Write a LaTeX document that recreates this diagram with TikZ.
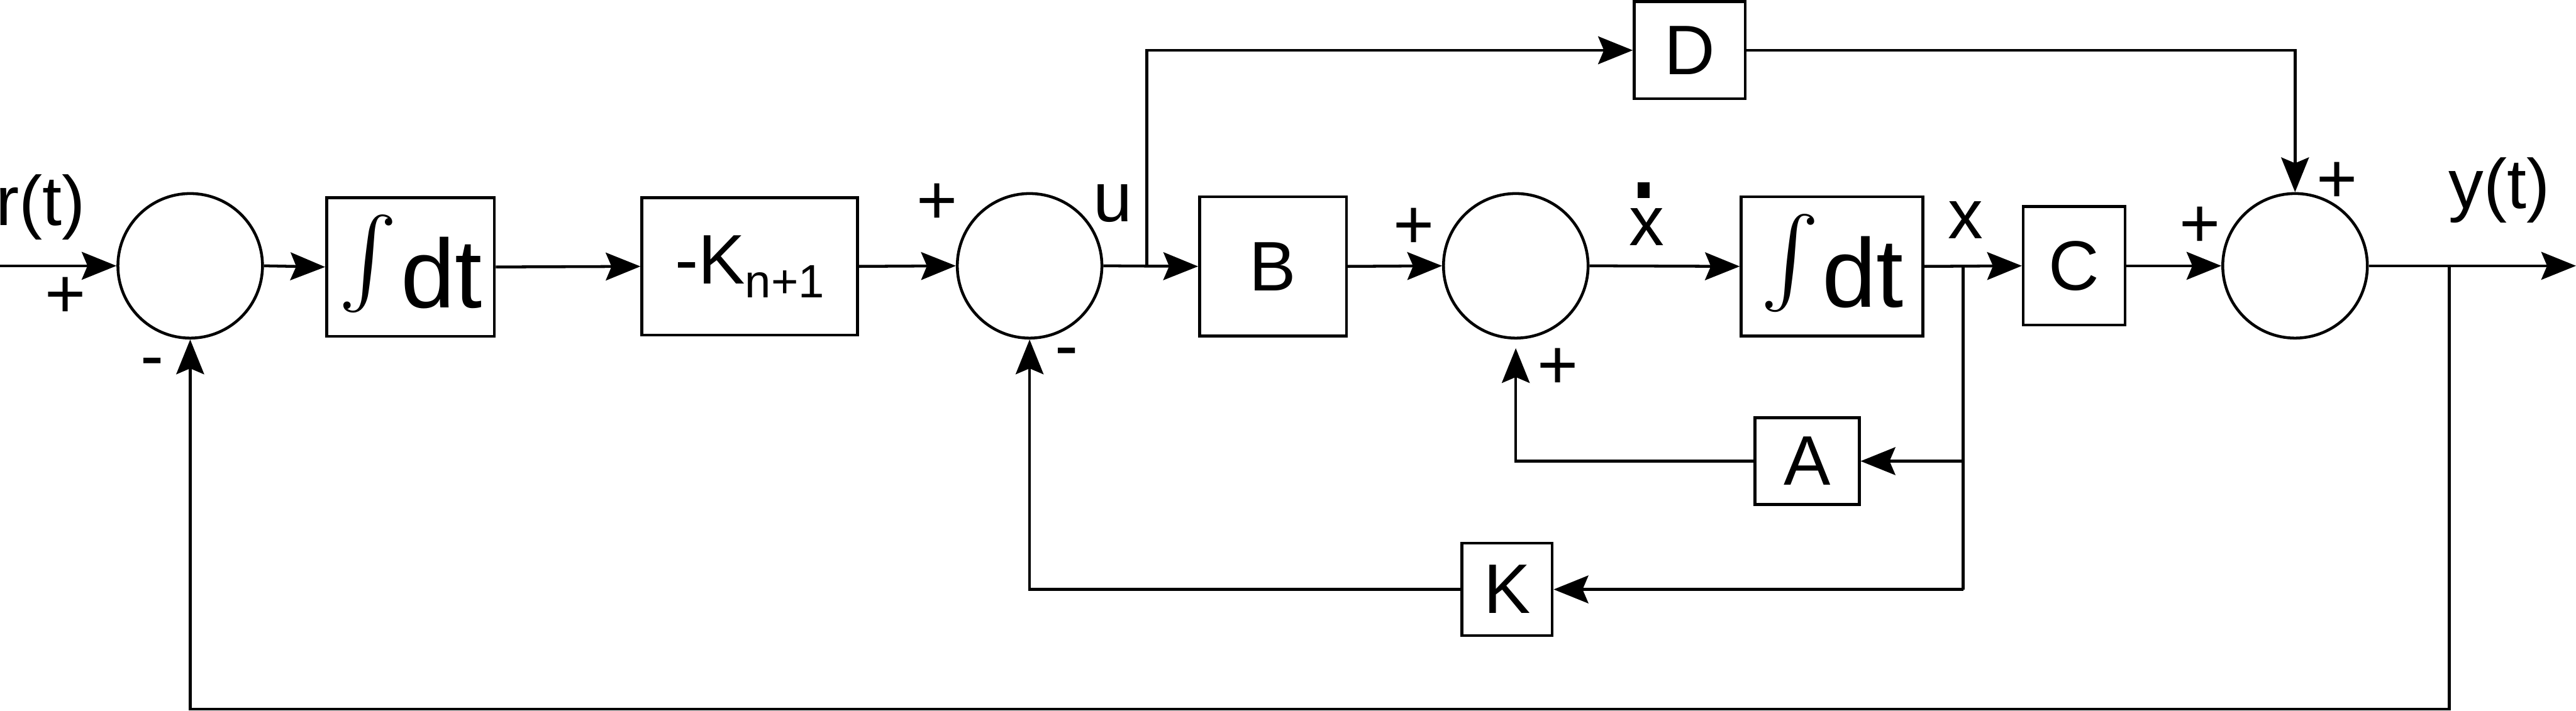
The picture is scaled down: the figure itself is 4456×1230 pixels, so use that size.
\documentclass[tikz,border=0pt]{standalone}
\usepackage{graphicx}
\usepackage{fontspec}
\setmainfont{Liberation Sans}
\usetikzlibrary{arrows.meta,calc}
\newcommand\lblfont{\fontsize{34.5}{40}\selectfont}
\newcommand\subfont{\fontsize{23}{26}\selectfont}
\newcommand\intfont{\fontsize{48}{52}\selectfont}
\newcommand\bigint{\raisebox{-0.2cm}{\resizebox{!}{1.8cm}{\raisebox{\depth}{$\int$}}}}
\tikzset{
  sumnode/.style={circle, draw, line width=1.4pt, minimum size=2.5cm, inner sep=0pt},
  blk/.style={draw, line width=1.4pt, inner sep=0pt, font=\lblfont},
  conn/.style={line width=1.4pt, -{Stealth[length=6mm,width=4.8mm,inset=1mm]}},
  wire/.style={line width=1.4pt},
  lbl/.style={font=\lblfont, inner sep=0pt, anchor=base}
}
\begin{document}
\begin{tikzpicture}[x=0.01cm, y=-0.01cm]
\useasboundingbox (0,0) rectangle (4456,1230);
% summing junctions
\node[sumnode] (s1) at (329,460) {};
\node[sumnode] (s2) at (1781,460) {};
\node[sumnode] (s3) at (2622,460) {};
\node[sumnode] (s4) at (3970,460) {};
% blocks
\node[blk, minimum width=2.9cm, minimum height=2.4cm] (b1) at (710,462) {\intfont\bigint\hspace{0.05cm}dt};
\node[blk, minimum width=3.73cm, minimum height=2.38cm] (bk) at (1297,461) {-K\raisebox{-0.24cm}{\subfont n+1}};
\node[blk, minimum width=2.54cm, minimum height=2.41cm] (bB) at (2202,461) {B};
\node[blk, minimum width=3.14cm, minimum height=2.41cm] (b2) at (3169,461) {\intfont\bigint\hspace{0.05cm}dt};
\node[blk, minimum width=1.76cm, minimum height=2.05cm] (bC) at (3588,460) {C};
\node[blk, minimum width=1.92cm, minimum height=1.68cm] (bD) at (2923,87) {D};
\node[blk, minimum width=1.80cm, minimum height=1.50cm] (bA) at (3126,798) {A};
\node[blk, minimum width=1.56cm, minimum height=1.60cm] (bK) at (2607,1020) {K};
% coordinates
\coordinate (rin) at (0,460);
\coordinate (ub) at (1984,460);
\coordinate (xb) at (3396,460);
\coordinate (yb) at (4237,460);
\coordinate (yout) at (4456,460);
\coordinate (bot) at (0,1227);
% forward path
\draw[conn] (rin) -- (s1.west);
\draw[conn] (s1.east) -- (b1.west);
\draw[conn] (b1.east) -- (bk.west);
\draw[conn] (bk.east) -- (s2.west);
\draw[conn] (s2.east) -- (bB.west);
\draw[conn] (bB.east) -- (s3.west);
\draw[conn] (s3.east) -- (b2.west);
\draw[conn] (b2.east) -- (bC.west);
\draw[conn] (bC.east) -- (s4.west);
\draw[conn] (s4.east) -- (yout);
% feedthrough D
\draw[conn] (ub) |- (bD.west);
\draw[conn] (bD.east) -| (s4.north);
% state feedback
\draw[wire] (xb) -- (xb |- bK.east);
\draw[conn] (xb |- bA.east) -- (bA.east);
\draw[conn] (xb |- bK.east) -- (bK.east);
\draw[conn, shorten >=1.5mm] (bA.west) -| (s3.south);
\draw[conn] (bK.west) -| (s2.south);
% output feedback
\draw[conn] (yb) -- (yb |- bot) -| (s1.south);
% labels
\node[lbl] (lr) at (70,390) {r(t)};
\node[lbl] (p1) at (113,550) {+};
\node[lbl] (m1) at (263,657) {-};
\node[lbl] (p2) at (1621,388) {+};
\node[lbl] (lu) at (1925,383) {u};
\node[lbl] (m2) at (1845,639) {-};
\node[lbl] (p3) at (2446,430) {+};
\node[lbl] (lxd) at (2848,425) {x};
\fill (2833,315) rectangle (2854,343);
\node[lbl] (p4) at (2695,673) {+};
\node[lbl] (lx) at (3400,413) {x};
\node[lbl] (p5) at (3806,428) {+};
\node[lbl] (p6) at (4043,351) {+};
\node[lbl] (ly) at (4323,361) {y(t)};
\end{tikzpicture}
\end{document}
